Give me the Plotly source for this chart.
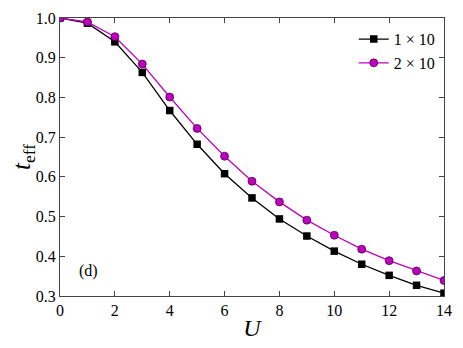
import plotly.graph_objects as go

# interaction strength U
U = [0, 1, 2, 3, 4, 5, 6, 7, 8, 9, 10, 11, 12, 13, 14]

# t_eff for the two system sizes
t_eff_1x10 = [1.0, 0.987, 0.940, 0.863, 0.767, 0.682, 0.608, 0.547, 0.494,
              0.451, 0.413, 0.380, 0.352, 0.327, 0.307]
t_eff_2x10 = [1.0, 0.990, 0.953, 0.884, 0.801, 0.722, 0.652, 0.589, 0.537,
              0.491, 0.453, 0.418, 0.389, 0.363, 0.339]

series_names = ["1 × 10", "2 × 10"]

serif = "Liberation Serif"

fig = go.Figure()
fig.add_trace(go.Scatter(
    x=U, y=t_eff_1x10, mode="lines+markers", name=series_names[0],
    line=dict(color="black", width=1.3),
    marker=dict(symbol="square", size=7.5, color="black"),
))
fig.add_trace(go.Scatter(
    x=U, y=t_eff_2x10, mode="lines+markers", name=series_names[1],
    line=dict(color="#BF00BF", width=1.3),
    marker=dict(symbol="circle", size=8, color="#BF00BF",
                line=dict(color="#3a003a", width=0.7)),
))

axis_style = dict(
    showline=True, linecolor="#444", linewidth=1.3, mirror="ticks",
    ticks="inside", ticklen=5, tickcolor="#444", tickwidth=1,
    showgrid=False, zeroline=False, automargin=False,
    tickfont=dict(family=serif, size=16, color="black"),
)

fig.update_xaxes(range=[0, 14], dtick=2,
                 title=dict(text="<i>U</i>", font=dict(family=serif, size=24),
                            standoff=0),
                 **axis_style)
fig.update_yaxes(range=[0.3, 1.0], dtick=0.1, tickformat=".1f",
                 title=dict(text="<i>t</i><sub>eff</sub>",
                            font=dict(family=serif, size=25), standoff=8),
                 **axis_style)

fig.add_annotation(x=1.05, y=0.363, xref="x", yref="y", text="(d)",
                   showarrow=False, font=dict(family=serif, size=16, color="black"))

# page body has an 8px default margin, so the figure is drawn 8px smaller
fig.update_layout(
    width=455, height=340,
    margin=dict(l=52, r=19, t=10, b=52),
    paper_bgcolor="white", plot_bgcolor="white",
    font=dict(family=serif, color="black"),
    legend=dict(x=0.765, y=0.985, xanchor="left", yanchor="top",
                bgcolor="rgba(0,0,0,0)", font=dict(family=serif, size=16),
                itemwidth=30, tracegroupgap=0),
)

fig.write_html("out.html")
